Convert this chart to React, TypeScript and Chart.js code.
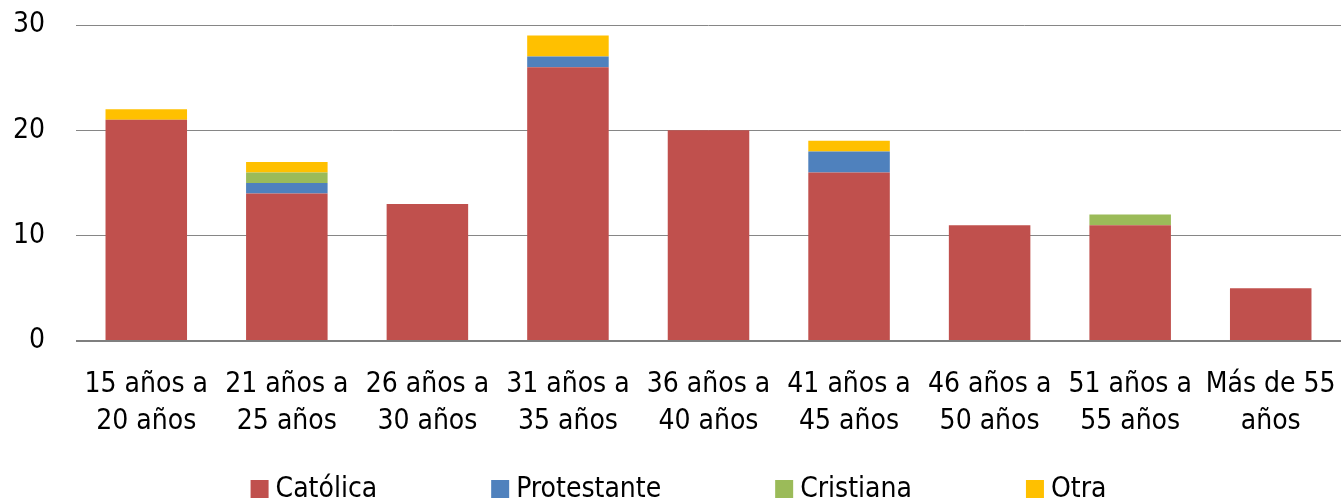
import React, { useEffect, useRef } from "react";
import { Chart, registerables } from "chart.js";

Chart.register(...registerables);

const categories: string[][] = [
  ["15 años a", "20 años"],
  ["21 años a", "25 años"],
  ["26 años a", "30 años"],
  ["31 años a", "35 años"],
  ["36 años a", "40 años"],
  ["41 años a", "45 años"],
  ["46 años a", "50 años"],
  ["51 años a", "55 años"],
  ["Más de 55", "años"],
];

const catolica = [21, 14, 13, 26, 20, 16, 11, 11, 5];
const protestante = [0, 1, 0, 1, 0, 2, 0, 0, 0];
const cristiana = [0, 1, 0, 0, 0, 0, 0, 1, 0];
const otra = [1, 1, 0, 2, 0, 1, 0, 0, 0];

const yTicks = [0, 10, 20, 30];

const FONT = '"Liberation Sans Narrow", "DejaVu Sans Condensed", "Liberation Sans", sans-serif';

const legendPlugin = {
  id: "customLegend",
  afterDraw(chart: any) {
    const ctx = chart.ctx;
    const fontSize = 28;
    const box = 18;
    const textGap = 7;
    const itemGap = 114;
    ctx.save();
    ctx.font = `${fontSize}px ${FONT}`;
    ctx.textBaseline = "middle";
    ctx.textAlign = "left";
    const items = chart.data.datasets.map((d: any) => ({
      label: d.label,
      color: d.backgroundColor,
      w: box + textGap + ctx.measureText(d.label).width,
    }));
    const total = items.reduce((s: number, it: any) => s + it.w, 0) + itemGap * (items.length - 1);
    let x = chart.width / 2 - total / 2 + 8;
    const cy = 489;
    for (const it of items) {
      ctx.fillStyle = it.color;
      ctx.fillRect(x, cy - box / 2, box, box);
      ctx.fillStyle = "#000";
      ctx.fillText(it.label, x + box + textGap, cy + 1);
      x += it.w + itemGap;
    }
    ctx.restore();
  },
};

export default function App() {
  const ref = useRef<HTMLCanvasElement | null>(null);
  useEffect(() => {
    document.body.style.margin = "0";
    const canvas = ref.current!;
    const barPct = 0.58;
    const chart = new Chart(canvas, {
      type: "bar",
      data: {
        labels: categories,
        datasets: [
          { label: "Católica", data: catolica, backgroundColor: "#C0504D" },
          { label: "Protestante", data: protestante, backgroundColor: "#4F81BD" },
          { label: "Cristiana", data: cristiana, backgroundColor: "#9BBB59" },
          { label: "Otra", data: otra, backgroundColor: "#FFC000" },
        ].map((d) => ({ ...d, barPercentage: barPct, categoryPercentage: 1, borderWidth: 0 })),
      },
      options: {
        responsive: false,
        animation: false,
        layout: { padding: { top: 25, right: 0, bottom: 60, left: 0 } },
        plugins: {
          legend: { display: false },
          tooltip: { enabled: false },
        },
        scales: {
          x: {
            stacked: true,
            grid: { display: false, drawTicks: true, tickLength: 25 },
            border: { display: false },
            ticks: {
              color: "#000",
              font: { family: FONT, size: 28, lineHeight: 1.32 },
              padding: 0,
              maxRotation: 0,
              autoSkip: false,
            },
            afterFit(scale: any) {
              scale.height = 100;
            },
          },
          y: {
            stacked: true,
            min: 0,
            max: 30,
            afterBuildTicks(scale: any) {
              scale.ticks = yTicks.map((v) => ({ value: v }));
            },
            grid: {
              color: (c: any) => (c.tick && c.tick.value === 0 ? "#7f7f7f" : "#868686"),
              lineWidth: (c: any) => (c.tick && c.tick.value === 0 ? 2 : 1),
              drawTicks: true,
              tickLength: 31,
              tickColor: "rgba(0,0,0,0)",
            },
            border: { display: false },
            ticks: {
              color: "#000",
              font: { family: FONT, size: 28 },
              padding: 0,
            },
            afterFit(scale: any) {
              scale.width = 76;
            },
          },
        },
      },
      plugins: [legendPlugin],
    });
    return () => chart.destroy();
  }, []);
  return (
    <div style={{ position: "absolute", left: 0, top: 0, width: 1341, height: 501, background: "#fff" }}>
      <canvas ref={ref} width={1341} height={501} style={{ width: 1341, height: 501, display: "block" }} />
    </div>
  );
}
